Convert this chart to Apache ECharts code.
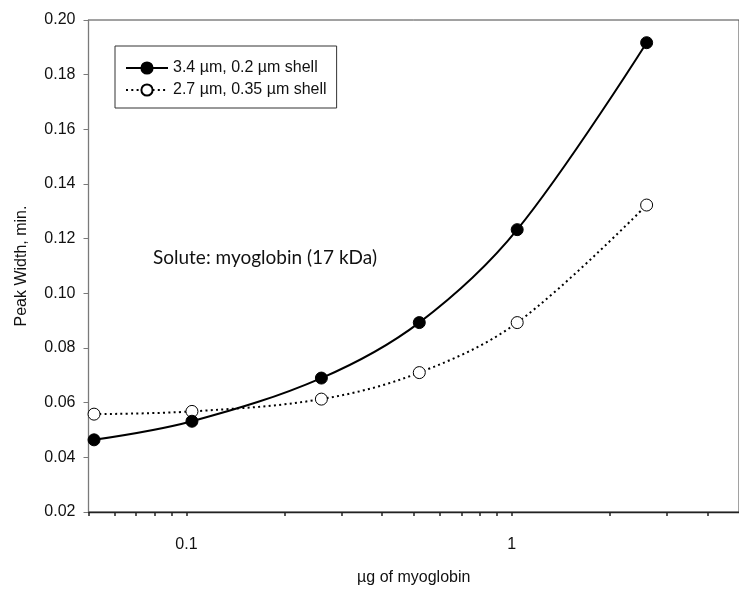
<!DOCTYPE html>
<html>
<head>
<meta charset="utf-8">
<script src="https://cdn.jsdelivr.net/npm/echarts@6/dist/echarts.min.js"></script>
<style>html,body{margin:0;padding:0;background:#fff}#c{width:739px;height:591px}</style>
</head>
<body>
<div id="c"></div>
<script>
// Data
var amounts = [0.052, 0.104, 0.26, 0.52, 1.04, 2.6];            // µg of myoglobin
var width34 = [0.0464, 0.0532, 0.0690, 0.0893, 0.1233, 0.1917]; // 3.4 µm, 0.2 µm shell
var width27 = [0.0558, 0.0568, 0.0613, 0.0710, 0.0893, 0.1323]; // 2.7 µm, 0.35 µm shell
var seriesNames = ['3.4 \u00b5m, 0.2 \u00b5m shell', '2.7 \u00b5m, 0.35 \u00b5m shell'];
var xTickValues = [0.05, 0.06, 0.07, 0.08, 0.09, 0.1, 0.2, 0.3, 0.4, 0.5, 0.6, 0.7, 0.8, 0.9, 1, 2, 3, 4];
var xLabelValues = [0.1, 1];
var annotation = 'Solute: myoglobin (17 kDa)';

function pairs(xs, ys) { return xs.map(function (x, i) { return [x, ys[i]]; }); }

var font = '"Liberation Sans", Arial, sans-serif';
var chart = echarts.init(document.getElementById('c'), null, {renderer: 'canvas'});
chart.setOption({
  animation: false,
  backgroundColor: '#fff',
  grid: {left: 88.5, top: 20, right: -9.5, bottom: 68.3, show: true, borderColor: '#444', borderWidth: 1, containLabel: false},
  legend: {
    left: 115, top: 46, orient: 'vertical',
    borderColor: '#333', borderWidth: 1, borderRadius: 0,
    padding: [14, 10, 10, 10], itemGap: 6,
    itemWidth: 42, itemHeight: 14,
    textStyle: {fontFamily: font, fontSize: 16, color: '#111'},
    data: seriesNames
  },
  xAxis: {
    type: 'log', logBase: 10, min: 0.05, max: 5,
    name: '\u00b5g of myoglobin', nameLocation: 'middle', nameGap: 58,
    nameTextStyle: {fontFamily: font, fontSize: 16, color: '#111'},
    axisLine: {show: true, lineStyle: {color: '#222', width: 1.3}},
    axisTick: {show: true, length: 4, customValues: xTickValues, lineStyle: {color: '#222', width: 1.5}},
    axisLabel: {show: true, customValues: xLabelValues, margin: 25, fontFamily: font, fontSize: 16, color: '#111',
      formatter: function (v) { return String(v); }},
    splitLine: {show: false},
    minorTick: {show: false}
  },
  yAxis: {
    type: 'value', min: 0.02, max: 0.20, interval: 0.02,
    name: 'Peak Width, min.', nameLocation: 'middle', nameGap: 59,
    nameTextStyle: {fontFamily: font, fontSize: 16, color: '#111'},
    axisLine: {show: true, lineStyle: {color: '#7a7a7a', width: 1.3}},
    axisTick: {show: true, length: 5, lineStyle: {color: '#7a7a7a'}},
    axisLabel: {margin: 13, fontFamily: font, fontSize: 16, color: '#111',
      formatter: function (v) { return v.toFixed(2); }},
    splitLine: {show: false}
  },
  graphic: [{
    type: 'text', left: 153, top: 248,
    style: {text: annotation, font: '19px Lato, "Open Sans", sans-serif', fill: '#111'}
  }],
  series: [
    {
      name: seriesNames[0], type: 'line', data: pairs(amounts, width34),
      smooth: 0.35, symbol: 'circle', symbolSize: 12,
      lineStyle: {color: '#000', width: 2},
      itemStyle: {color: '#000', borderColor: '#000', borderWidth: 1},
      z: 3
    },
    {
      name: seriesNames[1], type: 'line', data: pairs(amounts, width27),
      smooth: 0.35, symbol: 'circle', symbolSize: 12,
      lineStyle: {color: '#000', width: 2, type: [2, 3.3]},
      itemStyle: {color: '#fff', borderColor: '#000', borderWidth: 1},
      z: 2
    }
  ]
});
</script>
</body>
</html>
